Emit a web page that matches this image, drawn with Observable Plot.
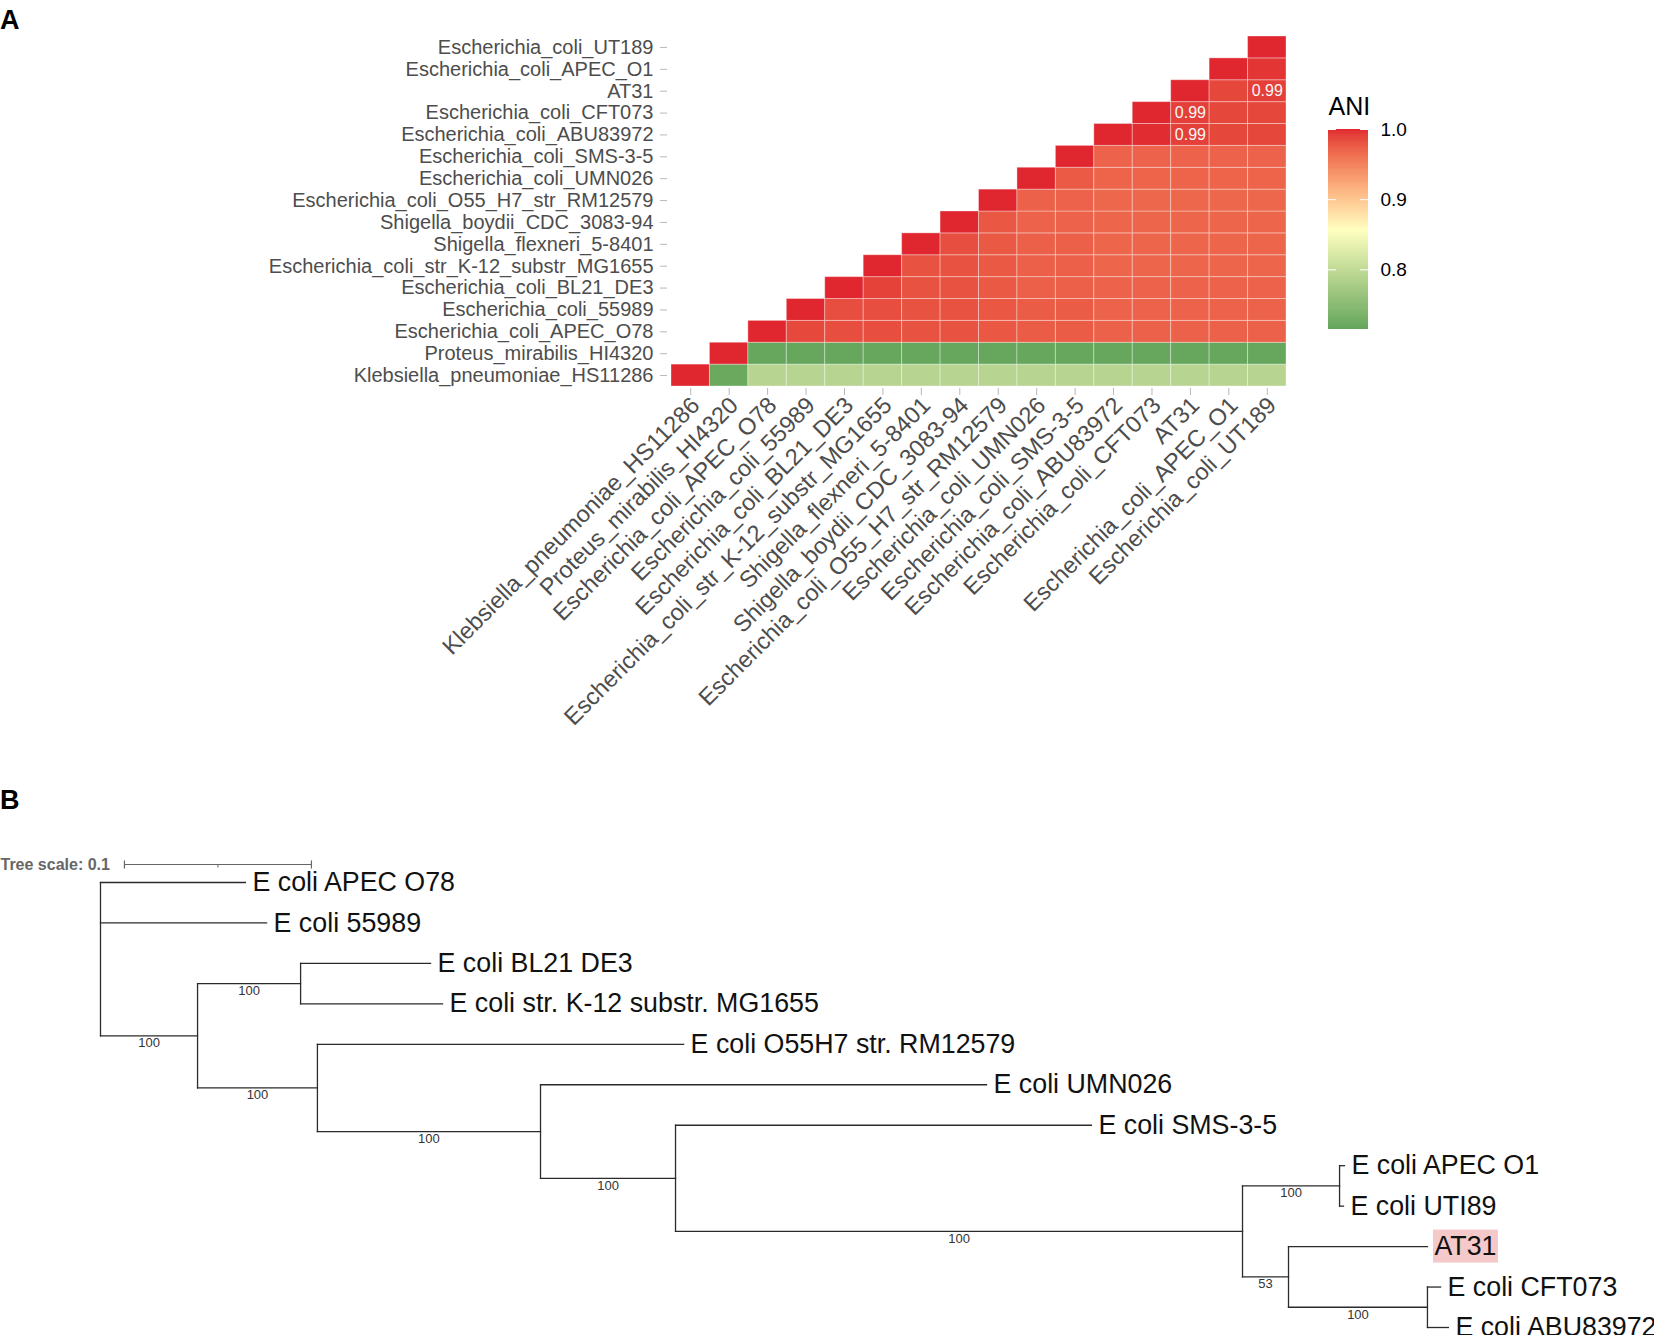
<!DOCTYPE html>
<html><head><meta charset="utf-8">
<script src="https://cdn.jsdelivr.net/npm/d3@7"></script>
<script src="https://cdn.jsdelivr.net/npm/@observablehq/plot@0.6"></script>
<style>
body{margin:0;background:#fff;font-family:"Liberation Sans",Arial,sans-serif;}
#page{position:relative;width:1654px;height:1335px;overflow:hidden;background:#fff}
.panel{position:absolute;font-weight:bold;font-size:27px;line-height:27px;color:#000;font-family:"Liberation Sans",Arial,sans-serif}
#heat,#legend,#tree{position:absolute}
svg{overflow:visible}
</style></head><body>
<div id="page">
<div id="heat" style="left:0;top:0"></div>
<div id="legend" style="left:1300px;top:80px"></div>
<div id="tree" style="left:0;top:780px"></div>
<div class="panel" style="left:0;top:7px">A</div>
<div class="panel" style="left:0;top:787px">B</div>
</div>
<script>
// ---------- Panel A data ----------
const genomes = [
  "Klebsiella_pneumoniae_HS11286", "Proteus_mirabilis_HI4320", "Escherichia_coli_APEC_O78",
  "Escherichia_coli_55989", "Escherichia_coli_BL21_DE3", "Escherichia_coli_str_K-12_substr_MG1655",
  "Shigella_flexneri_5-8401", "Shigella_boydii_CDC_3083-94", "Escherichia_coli_O55_H7_str_RM12579",
  "Escherichia_coli_UMN026", "Escherichia_coli_SMS-3-5", "Escherichia_coli_ABU83972",
  "Escherichia_coli_CFT073", "AT31", "Escherichia_coli_APEC_O1", "Escherichia_coli_UT189"
];
// ANI of each row genome against the genomes to its right (upper triangle, diagonal = 1)
const aniByRow = [
  [0.72, 0.79, 0.79, 0.79, 0.79, 0.79, 0.79, 0.79, 0.79, 0.79, 0.79, 0.79, 0.79, 0.79, 0.79],
  [0.716, 0.716, 0.716, 0.716, 0.716, 0.716, 0.716, 0.716, 0.716, 0.716, 0.716, 0.716, 0.716, 0.716],
  [0.985, 0.982, 0.982, 0.980, 0.980, 0.977, 0.974, 0.974, 0.971, 0.971, 0.971, 0.971, 0.971],
  [0.982, 0.982, 0.980, 0.980, 0.977, 0.974, 0.974, 0.970, 0.970, 0.970, 0.970, 0.970],
  [0.988, 0.980, 0.980, 0.976, 0.972, 0.972, 0.970, 0.970, 0.970, 0.970, 0.970],
  [0.980, 0.980, 0.976, 0.972, 0.972, 0.968, 0.968, 0.968, 0.968, 0.968],
  [0.982, 0.976, 0.972, 0.972, 0.968, 0.968, 0.968, 0.968, 0.968],
  [0.977, 0.970, 0.970, 0.968, 0.968, 0.968, 0.968, 0.968],
  [0.971, 0.970, 0.967, 0.967, 0.967, 0.967, 0.967],
  [0.975, 0.969, 0.969, 0.969, 0.969, 0.969],
  [0.970, 0.970, 0.970, 0.970, 0.970],
  [0.998, 0.990, 0.986, 0.986],
  [0.990, 0.986, 0.986],
  [0.986, 0.990],
  [0.994],
  []
];
const labelledCells = [
  ["Escherichia_coli_CFT073", "AT31"],
  ["Escherichia_coli_ABU83972", "AT31"],
  ["AT31", "Escherichia_coli_UT189"]
];
const legendTicks = [0.8, 0.9, 1.0];
const aniMin = 0.715, aniMid = 0.855, aniMax = 1.0;

// ---------- Panel B data ----------
// [node, parent, branch length, bootstrap support]
const treeNodes = [
  ["root", null, 0, null],
  ["E coli APEC O78", "root", 0.0775, null],
  ["E coli 55989", "root", 0.0888, null],
  ["n1", "root", 0.0519, 100],
  ["n2", "n1", 0.0551, 100],
  ["E coli BL21 DE3", "n2", 0.0695, null],
  ["E coli str. K-12 substr. MG1655", "n2", 0.0759, null],
  ["n3", "n1", 0.0641, 100],
  ["E coli O55H7 str. RM12579", "n3", 0.1958, null],
  ["n4", "n3", 0.1193, 100],
  ["E coli UMN026", "n4", 0.2385, null],
  ["n5", "n4", 0.0722, 100],
  ["E coli SMS-3-5", "n5", 0.2224, null],
  ["n6", "n5", 0.3032, 100],
  ["n7", "n6", 0.0519, 100],
  ["E coli APEC O1", "n7", 0.0026, null],
  ["E coli UTI89", "n7", 0.0021, null],
  ["n8", "n6", 0.0246, 53],
  ["AT31", "n8", 0.0743, null],
  ["n9", "n8", 0.0743, 100],
  ["E coli CFT073", "n9", 0.0070, null],
  ["E coli ABU83972", "n9", 0.0112, null]
];
const highlighted = ["AT31"];
const treeScaleLength = 0.1;

// ---------- Panel A ----------
const font = "Liberation Sans, Arial, sans-serif";
const colorOpts = {type: "linear", domain: [aniMin, aniMid, aniMax],
  range: ["#65a65c", "#ffffc0", "#e0262f"], interpolate: "lab", clamp: true};

const cells = [];
genomes.forEach((g, i) => {
  cells.push({row: g, col: g, ani: 1});
  aniByRow[i].forEach((v, k) => cells.push({row: g, col: genomes[i + 1 + k], ani: v}));
});
const labelData = labelledCells.map(([r, c]) => cells.find(d => d.row === r && d.col === c));

const heat = Plot.plot({
  width: 1654, height: 740,
  marginLeft: 671, marginRight: 368, marginTop: 36, marginBottom: 354,
  style: {fontFamily: font, background: "transparent", overflow: "visible"},
  x: {domain: genomes, padding: 0, round: false, axis: null},
  y: {domain: genomes.slice().reverse(), padding: 0, round: false, axis: null},
  color: colorOpts,
  marks: [
    Plot.cell(cells, {x: "col", y: "row", fill: "ani", stroke: "#ffffff", strokeOpacity: 0.35, strokeWidth: 1}),
    Plot.text(labelData, {x: "col", y: "row", text: d => d3.format(".2f")(d.ani), fill: "#f7f7f7", fontSize: 16}),
    Plot.axisY({label: null, tickSize: 7, tickPadding: 7, dx: -4, fontSize: 20, fill: "#4d4d4d", stroke: "#b8b8b8"}),
    Plot.axisX({label: null, tickSize: 7, dy: 2, tickFormat: () => "", stroke: "#b8b8b8"}),
    Plot.axisX({label: null, tickSize: 0, tickPadding: 15, dx: 5, tickRotate: -45, fontSize: 23.5, fill: "#4d4d4d"})
  ]
});
document.getElementById("heat").appendChild(heat);

// ---------- Legend ----------
const legendSteps = d3.range(aniMin, aniMax, 0.0025);
const legend = Plot.plot({
  width: 150, height: 270, marginLeft: 28, marginRight: 82, marginTop: 49, marginBottom: 21,
  style: {fontFamily: font, background: "transparent", overflow: "visible"},
  x: {axis: null},
  y: {domain: [aniMin, aniMax], axis: null},
  color: colorOpts,
  marks: [
    Plot.rect(legendSteps, {y1: d => d, y2: d => Math.min(aniMax, d + 0.004), fill: d => d, shapeRendering: "crispEdges"}),
    Plot.tickY(legendTicks, {y: d => d, stroke: "#ffffff", strokeWidth: 1, insetRight: 32}),
    Plot.tickY(legendTicks, {y: d => d, stroke: "#ffffff", strokeWidth: 1, insetLeft: 32}),
    Plot.axisY({label: null, anchor: "right", ticks: legendTicks, tickFormat: d3.format(".1f"), tickSize: 0, tickPadding: 12, fontSize: 19, fill: "#000"}),
    Plot.text(["ANI"], {frameAnchor: "top-left", text: d => d, dy: -32, textAnchor: "start", fontSize: 25, fill: "#000"})
  ]
});
document.getElementById("legend").appendChild(legend);

// ---------- Panel B ----------
const nodes = new Map(treeNodes.map(([id, parent, len, support]) => [id, {id, parent, len, support, children: []}]));
for (const n of nodes.values()) if (n.parent) nodes.get(n.parent).children.push(n);
let leafIndex = 0;
(function layout(n, x0) {
  n.x = x0 + n.len;
  if (n.children.length === 0) { n.y = leafIndex++; return; }
  n.children.forEach(c => layout(c, n.x));
  n.y = (n.children[0].y + n.children[n.children.length - 1].y) / 2;
})(nodes.get("root"), 0);
const all = [...nodes.values()];
const leaves = all.filter(n => n.children.length === 0);
const segs = [];
for (const n of all) {
  if (n.parent) { const p = nodes.get(n.parent); segs.push({x1: p.x, x2: n.x, y1: n.y, y2: n.y}); }
  if (n.children.length) segs.push({x1: n.x, x2: n.x, y1: n.children[0].y, y2: n.children[n.children.length - 1].y});
}
const supports = all.filter(n => n.support != null).map(n => ({...n, xm: (nodes.get(n.parent).x + n.x) / 2}));
const hl = leaves.filter(n => highlighted.includes(n.id));
// tree-scale bar (legend) placed above the first leaf
const scaleRow = -0.445, scaleStart = 0.0128;
const scaleEnd = scaleStart + treeScaleLength;
const scaleBar = [
  {x1: scaleStart, x2: scaleEnd, y1: scaleRow, y2: scaleRow, w: 1.2},
  {x1: scaleStart, x2: scaleStart, y1: scaleRow - 0.1, y2: scaleRow + 0.1, w: 1.2},
  {x1: scaleEnd, x2: scaleEnd, y1: scaleRow - 0.1, y2: scaleRow + 0.1, w: 1.2},
  {x1: (scaleStart + scaleEnd) / 2, x2: (scaleStart + scaleEnd) / 2, y1: scaleRow, y2: scaleRow + 0.075, w: 1}
];

const tree = Plot.plot({
  width: 1654, height: 555, marginLeft: 100, marginRight: 58, marginTop: 102, marginBottom: 8,
  style: {fontFamily: font, background: "transparent", overflow: "visible"},
  x: {domain: [0, 0.8], axis: null},
  y: {domain: [0, leaves.length - 1], reverse: true, axis: null},
  marks: [
    Plot.rect(hl, {x1: "x", x2: "x", y1: "y", y2: "y", insetLeft: 6, insetRight: -71, insetTop: -16.5, insetBottom: -16.5, fill: "#f5c9c9"}),
    Plot.link(segs, {x1: "x1", x2: "x2", y1: "y1", y2: "y2", stroke: "#2b2b2b", strokeWidth: 1.3, strokeLinecap: "square"}),
    Plot.text(leaves, {x: "x", y: "y", text: "id", textAnchor: "start", dx: 7, fontSize: 26.8, fill: "#111"}),
    Plot.text(supports, {x: "xm", y: "y", text: "support", lineAnchor: "top", dy: 2, fontSize: 13, fill: "#333"}),
    Plot.link(scaleBar, {x1: "x1", x2: "x2", y1: "y1", y2: "y2", stroke: "#666", strokeWidth: "w"}),
    Plot.text([`Tree scale: ${treeScaleLength}`], {frameAnchor: "top-left", text: d => d, dx: -100, dy: -24, textAnchor: "start", fontSize: 16, fontWeight: "bold", fill: "#666"})
  ]
});
document.getElementById("tree").appendChild(tree);
</script>
</body></html>
